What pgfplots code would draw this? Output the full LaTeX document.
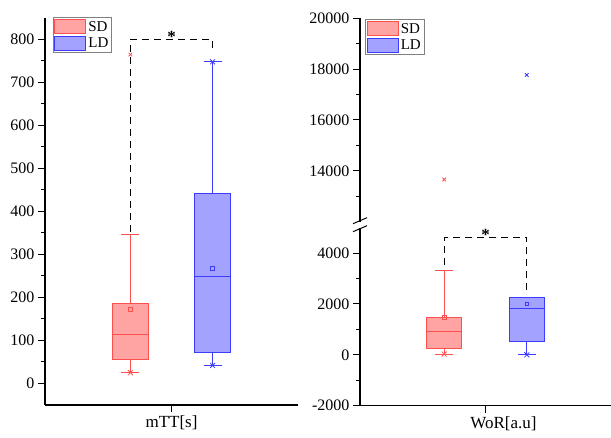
\documentclass[border=0pt]{standalone}
\usepackage{pgfplots}
\pgfplotsset{compat=1.18}
\usepackage{fontspec}
\setmainfont{Liberation Serif}

\definecolor{sdline}{RGB}{255,80,80}
\definecolor{sdfill}{RGB}{255,163,163}
\definecolor{ldline}{RGB}{60,60,255}
\definecolor{ldfill}{RGB}{163,163,255}

\pgfplotsset{
  panel/.style={
    scale only axis,
    axis lines*=left,
    axis line style={line width=1.3pt, -},
    tick style={line width=1pt, black},
    tick align=outside,
    major tick length=7pt,
    minor tick length=4pt,
    scaled y ticks=false,
    /pgf/number format/assume math mode=true,
    /pgf/number format/set thousands separator={},
    yticklabel style={font=\fontsize{16}{18}\selectfont},
    xticklabel style={font=\fontsize{17}{19}\selectfont},
    clip=false,
    legend cell align=left,
    legend style={draw=gray, line width=0.8pt, font=\fontsize{15}{17}\selectfont,
      inner sep=1.5pt, row sep=1pt},
    legend image code/.code={\draw[#1, line width=0.9pt] (0pt,-7pt) rectangle (31pt,7pt);},
  },
  sdbox/.style={draw=sdline, fill=sdfill, line width=1pt},
  ldbox/.style={draw=ldline, fill=ldfill, line width=1pt},
  sdl/.style={sdline, line width=1pt},
  ldl/.style={ldline, line width=1pt},
  bracket/.style={black, line width=1.3pt, dash pattern=on 7pt off 5pt},
}

\begin{document}
\begin{tikzpicture}
\useasboundingbox (0,0) rectangle (611pt,438pt);

% left panel: mTT
% SD: min 25, Q1 56, median 113, Q3 185, whisker 346, mean 173, max 765
% LD: min 42, Q1 73, median 249, Q3 441, max 748, mean 268
\begin{axis}[panel,
  at={(45pt,33pt)}, anchor=south west,
  width=253pt, height=387pt,
  xmin=-0.04, xmax=3.04,
  ymin=-50, ymax=850,
  ytick={0,100,...,800}, minor y tick num=1,
  xtick={1.5}, xticklabels={mTT[s]},
  legend style={at={(0.03,1.002)}, anchor=north west},
]
\addlegendimage{draw=sdline, fill=sdfill}
\addlegendentry{SD}
\addlegendimage{draw=ldline, fill=ldfill}
\addlegendentry{LD}

% SD
\addplot[sdl, forget plot] coordinates {(1,185) (1,346)};
\addplot[sdl, forget plot] coordinates {(1,56) (1,25)};
\addplot[sdl, forget plot] coordinates {(0.89,346) (1.11,346)};
\addplot[sdl, forget plot] coordinates {(0.89,25) (1.11,25)};
\addplot[sdbox, forget plot] coordinates {(0.785,56) (1.215,56) (1.215,185) (0.785,185)} -- cycle;
\addplot[sdl, forget plot] coordinates {(0.785,113) (1.215,113)};
\addplot[sdl, forget plot, only marks, mark=square, mark size=1.8pt, line width=0.8pt] coordinates {(1,173)};
% LD
\addplot[ldl, forget plot] coordinates {(2,441) (2,748)};
\addplot[ldl, forget plot] coordinates {(2,73) (2,42)};
\addplot[ldl, forget plot] coordinates {(1.89,748) (2.11,748)};
\addplot[ldl, forget plot] coordinates {(1.89,42) (2.11,42)};
\addplot[ldbox, forget plot] coordinates {(1.785,73) (2.215,73) (2.215,441) (1.785,441)} -- cycle;
\addplot[ldl, forget plot] coordinates {(1.785,249) (2.215,249)};
\addplot[ldl, forget plot, only marks, mark=square, mark size=1.8pt, line width=0.8pt] coordinates {(2,268)};

% min / max marks
\addplot[forget plot, only marks, mark=x, mark size=3.5pt, sdline, line width=0.8pt] coordinates {(1,25)};
\addplot[forget plot, only marks, mark=x, mark size=2.5pt, sdline, line width=0.8pt] coordinates {(1,765)};
\addplot[forget plot, only marks, mark=x, mark size=3.5pt, ldline, line width=0.8pt] coordinates {(2,42) (2,748)};

% significance bracket
\addplot[forget plot, bracket] coordinates {(1,353) (1,800) (2,800) (2,780)};
\node[anchor=base, font=\fontsize{17}{19}\selectfont\bfseries] at (axis cs:1.5,793) {*};
\end{axis}

% right panel, lower part: WoR
% SD: min 30, Q1 236, median 917, Q3 1484, whisker 3320, mean 1470, max 13660
% LD: min 0, Q1 525, median 1840, Q3 2245, mean 1996, max 17770
\begin{axis}[panel,
  at={(360pt,32.3pt)}, anchor=south west,
  width=251pt, height=178pt,
  xmin=-0.02, xmax=3.02,
  ymin=-2000, ymax=5000,
  ytick={-2000,0,2000,4000}, minor y tick num=1,
  xtick={1.5}, xticklabels={WoR[a.u]},
  xticklabel style={xshift=18pt},
]
% SD
\addplot[sdl] coordinates {(1,1484) (1,3320)};
\addplot[sdl] coordinates {(1,236) (1,30)};
\addplot[sdl] coordinates {(0.89,3320) (1.11,3320)};
\addplot[sdl] coordinates {(0.89,30) (1.11,30)};
\addplot[sdbox] coordinates {(0.785,236) (1.215,236) (1.215,1484) (0.785,1484)} -- cycle;
\addplot[sdl] coordinates {(0.785,917) (1.215,917)};
\addplot[sdl, only marks, mark=square, mark size=1.8pt, line width=0.8pt] coordinates {(1,1470)};
% LD
\addplot[ldl] coordinates {(2,525) (2,0)};
\addplot[ldl] coordinates {(1.89,0) (2.11,0)};
\addplot[ldbox] coordinates {(1.785,525) (2.215,525) (2.215,2245) (1.785,2245)} -- cycle;
\addplot[ldl] coordinates {(1.785,1840) (2.215,1840)};
\addplot[ldl, only marks, mark=square, mark size=1.8pt, line width=0.8pt] coordinates {(2,1996)};

\addplot[only marks, mark=x, mark size=3.5pt, sdline, line width=0.8pt] coordinates {(1,30)};
\addplot[only marks, mark=x, mark size=3.5pt, ldline, line width=0.8pt] coordinates {(2,0)};

\addplot[bracket] coordinates {(1,3543) (1,4620) (2,4620) (2,2490)};
\node[anchor=base, font=\fontsize{17}{19}\selectfont\bfseries] at (axis cs:1.5,4500) {*};

% axis break marks
\draw[line width=1pt] ([xshift=-7pt,yshift=-4pt]rel axis cs:0,1) -- ([xshift=7pt,yshift=2pt]rel axis cs:0,1);
\draw[line width=1pt] ([xshift=-7pt,yshift=4pt]rel axis cs:0,1) -- ([xshift=7pt,yshift=10pt]rel axis cs:0,1);
\end{axis}

% right panel, upper part
\begin{axis}[panel,
  axis x line=none, axis y line*=left,
  at={(360pt,216.3pt)}, anchor=south west,
  width=251pt, height=203.4pt,
  xmin=-0.02, xmax=3.02,
  ymin=12000, ymax=20000,
  ytick={14000,16000,18000,20000},
  minor ytick={13000,15000,17000,19000},
  legend style={at={(0.02,0.995)}, anchor=north west},
]
\addlegendimage{draw=sdline, fill=sdfill}
\addlegendentry{SD}
\addlegendimage{draw=ldline, fill=ldfill}
\addlegendentry{LD}

\addplot[forget plot, only marks, mark=x, mark size=2.5pt, sdline, line width=0.8pt] coordinates {(1,13660)};
\addplot[forget plot, only marks, mark=x, mark size=2.5pt, ldline, line width=0.8pt] coordinates {(2,17770)};
\end{axis}
\end{tikzpicture}
\end{document}
